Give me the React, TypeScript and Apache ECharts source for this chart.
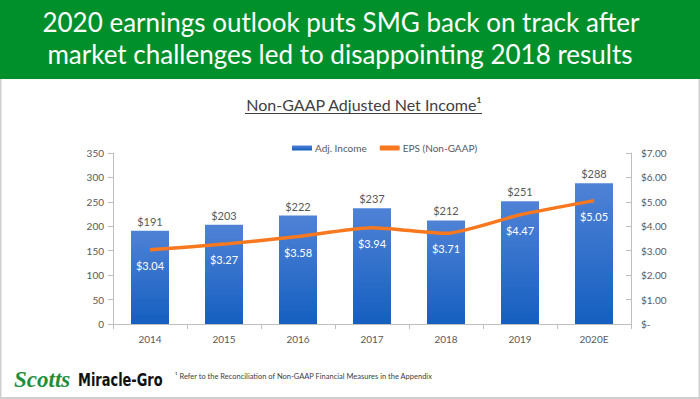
import React, { useEffect, useRef } from "react";
import * as echarts from "echarts";

const categories = ["2014", "2015", "2016", "2017", "2018", "2019", "2020E"];
const adjIncome = [191, 203, 222, 237, 212, 251, 288];
const eps = [3.04, 3.27, 3.58, 3.94, 3.71, 4.47, 5.05];
const leftTicks = { min: 0, max: 350, interval: 50 };
const rightTicks = { min: 0, max: 7, interval: 1 };
const headline = [
  "2020 earnings outlook puts SMG back on track after",
  "market challenges led to disappointing 2018 results",
];
const chartTitle = "Non-GAAP Adjusted Net Income\u00B9";
const footnote = "\u00B9 Refer to the Reconciliation of Non-GAAP Financial Measures in the Appendix";

export default function App() {
  const ref = useRef<HTMLDivElement>(null);
  useEffect(() => {
    if (!ref.current) return;
    const chart = echarts.init(ref.current, null, { renderer: "svg" });
    const gray = "#595959";
    chart.setOption({
      animation: false,
      backgroundColor: "#ffffff",
      textStyle: { fontFamily: "Lato, 'Open Sans', sans-serif" },
      graphic: [
        { type: "rect", shape: { x: 0, y: 0, width: 700, height: 79 }, style: { fill: "#00902b" }, z: 0 },
        { type: "line", shape: { x1: 0.5, y1: 79, x2: 0.5, y2: 399 }, style: { stroke: "#cfcfcf", lineWidth: 2 } },
        { type: "line", shape: { x1: 699.5, y1: 79, x2: 699.5, y2: 399 }, style: { stroke: "#cfcfcf", lineWidth: 2 } },
        { type: "line", shape: { x1: 0, y1: 398, x2: 700, y2: 398 }, style: { stroke: "#cfcfcf", lineWidth: 2 } },
        {
          type: "text", x: 341, y: 22,
          style: { text: headline[0], fill: "#ffffff", fontSize: 26, fontFamily: "Lato, sans-serif", align: "center", verticalAlign: "middle" },
        },
        {
          type: "text", x: 340, y: 54,
          style: { text: headline[1], fill: "#ffffff", fontSize: 26, fontFamily: "Lato, sans-serif", align: "center", verticalAlign: "middle" },
        },
        {
          type: "text", x: 364, y: 104,
          style: { text: chartTitle, fill: "#404040", fontSize: 16, fontFamily: "Lato, sans-serif", align: "center", verticalAlign: "middle" },
        },
        { type: "line", shape: { x1: 245, y1: 113.5, x2: 482, y2: 113.5 }, style: { stroke: "#404040", lineWidth: 1 } },
        {
          type: "text", x: 14, y: 379,
          style: { text: "Scotts", fill: "#1f8f3f", fontSize: 23, fontStyle: "italic", fontWeight: "bold", fontFamily: "'Liberation Serif', 'DejaVu Serif', serif", verticalAlign: "middle", letterSpacing: 1.5 },
        },
        {
          type: "text", x: 78, y: 380, scaleX: 0.72, originX: 0, originY: 0,
          style: { text: "Miracle-Gro", fill: "#111111", fontSize: 18, fontWeight: "bold", fontFamily: "'DejaVu Sans', sans-serif", verticalAlign: "middle", letterSpacing: -0.5 },
        },
        {
          type: "text", x: 175, y: 376,
          style: { text: footnote, fill: "#404040", fontSize: 7.5, fontFamily: "Lato, sans-serif", verticalAlign: "middle" },
        },
      ],
      legend: {
        left: 287,
        top: 138,
        itemGap: 13,
        itemWidth: 20,
        itemHeight: 5,
        textStyle: { color: gray, fontSize: 10, padding: [0, 0, 0, -2] },
        data: [
          { name: "Adj. Income", icon: "rect" },
          { name: "EPS (Non-GAAP)", icon: "roundRect" },
        ],
      },
      grid: { left: 113, right: 69, top: 153, bottom: 75 },
      xAxis: {
        type: "category",
        data: categories,
        axisLine: { lineStyle: { color: "#bfbfbf" } },
        axisTick: { show: true, alignWithLabel: false, lineStyle: { color: "#bfbfbf" } },
        axisLabel: { color: gray, fontSize: 10, margin: 10 },
      },
      yAxis: [
        {
          type: "value",
          ...leftTicks,
          splitLine: { show: false },
          axisLine: { show: true, lineStyle: { color: "#bfbfbf" } },
          axisTick: { show: true, lineStyle: { color: "#bfbfbf" } },
          axisLabel: { color: gray, fontSize: 10, margin: 9 },
        },
        {
          type: "value",
          ...rightTicks,
          position: "right",
          splitLine: { show: false },
          axisLine: { show: true, lineStyle: { color: "#bfbfbf" } },
          axisTick: { show: true, inside: true, lineStyle: { color: "#bfbfbf" } },
          axisLabel: {
            color: gray,
            fontSize: 10,
            margin: 10,
            formatter: (v: number) => (v === 0 ? "$-" : "$" + v.toFixed(2)),
          },
        },
      ],
      series: [
        {
          name: "Adj. Income",
          type: "bar",
          data: adjIncome,
          barWidth: 38,
          itemStyle: {
            color: new echarts.graphic.LinearGradient(0, 0, 0, 1, [
              { offset: 0, color: "#4f82d6" },
              { offset: 1, color: "#155fc0" },
            ]),
          },
          label: {
            show: true,
            position: "top",
            distance: 4,
            color: gray,
            fontSize: 11,
            formatter: (p: any) => "$" + p.value,
          },
        },
        {
          name: "EPS (Non-GAAP)",
          type: "line",
          yAxisIndex: 1,
          data: eps,
          smooth: 0.2,
          symbol: "circle",
          symbolSize: 0.1,
          showSymbol: true,
          lineStyle: { color: "#f7781e", width: 3.5 },
          itemStyle: { color: "#f7781e" },
          label: {
            show: true,
            position: "bottom",
            distance: 10,
            color: "#ffffff",
            fontSize: 11,
            formatter: (p: any) => "$" + p.value.toFixed(2),
          },
        },
      ],
    });
    return () => chart.dispose();
  }, []);
  return (
    <div
      ref={ref}
      style={{ position: "fixed", left: 0, top: 0, width: 700, height: 399 }}
    />
  );
}
